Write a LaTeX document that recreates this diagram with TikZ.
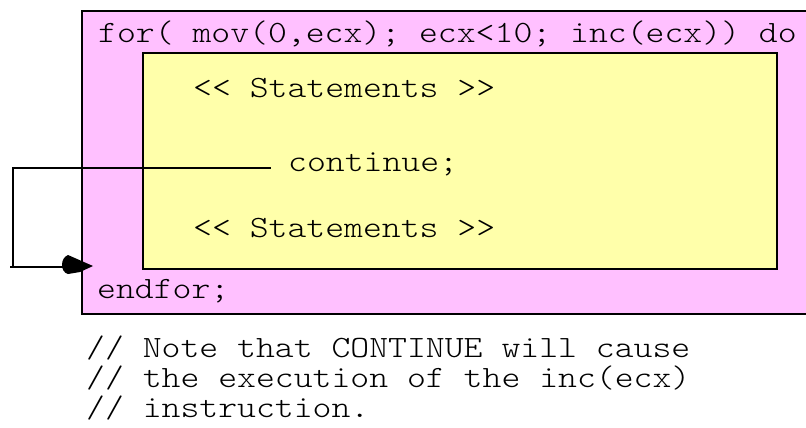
\documentclass[tikz,border=0pt]{standalone}
\usepackage{fontspec}
\setmonofont{lmmonolt10-regular.otf}[FakeStretch=1.16]
\usetikzlibrary{calc}
\definecolor{loopPink}{RGB}{255,192,255}
\definecolor{bodyYellow}{RGB}{255,255,170}
\begin{document}
\begin{tikzpicture}[x=1pt,y=-1pt,
  code/.style={anchor=base west,inner sep=0pt,font=\ttfamily\fontsize{31}{32}\selectfont},
  boxline/.style={draw=black,line width=2pt},
  conn/.style={draw=black,line width=2pt}]
\useasboundingbox (0,0) rectangle (806,428);
% outer loop box
\path[boxline,fill=loopPink] (82,11) rectangle (815,314);
% inner body box
\path[boxline,fill=bodyYellow] (143,53) rectangle (777,269);
% texts
\node[code] (head) at (98,43) {for( mov(0,ecx); ecx<10; inc(ecx)) do};
\node[code] (st1) at (193,97) {<< Statements >>};
\node[code] (cont) at (288,171) {continue;};
\node[code] (st2) at (193,237) {<< Statements >>};
\node[code] (endf) at (97,298) {endfor;};
\node[code] (c1) at (86,357) {// Note that CONTINUE will cause};
\node[code] (c2) at (86,387) {// the execution of the inc(ecx)};
\node[code] (c3) at (86,417) {// instruction.};
% continue connector
\coordinate (cstart) at (270,168);
\coordinate (cleft) at (13,168);
\coordinate (cbot) at (13,267);
\coordinate (astart) at (10,267);
\coordinate (atip) at (93,267);
\draw[conn,line cap=rect] (cstart) -- (cleft) -- (cbot);
\draw[conn] (astart) -- ($(atip)+(-14,0)$);
\fill[black,shift={(atip)}] (0,-1) -- (-25,-12) .. controls (-33,-9) and (-33,5) .. (-25,7) -- (-13,5) -- cycle;
\end{tikzpicture}
\end{document}
